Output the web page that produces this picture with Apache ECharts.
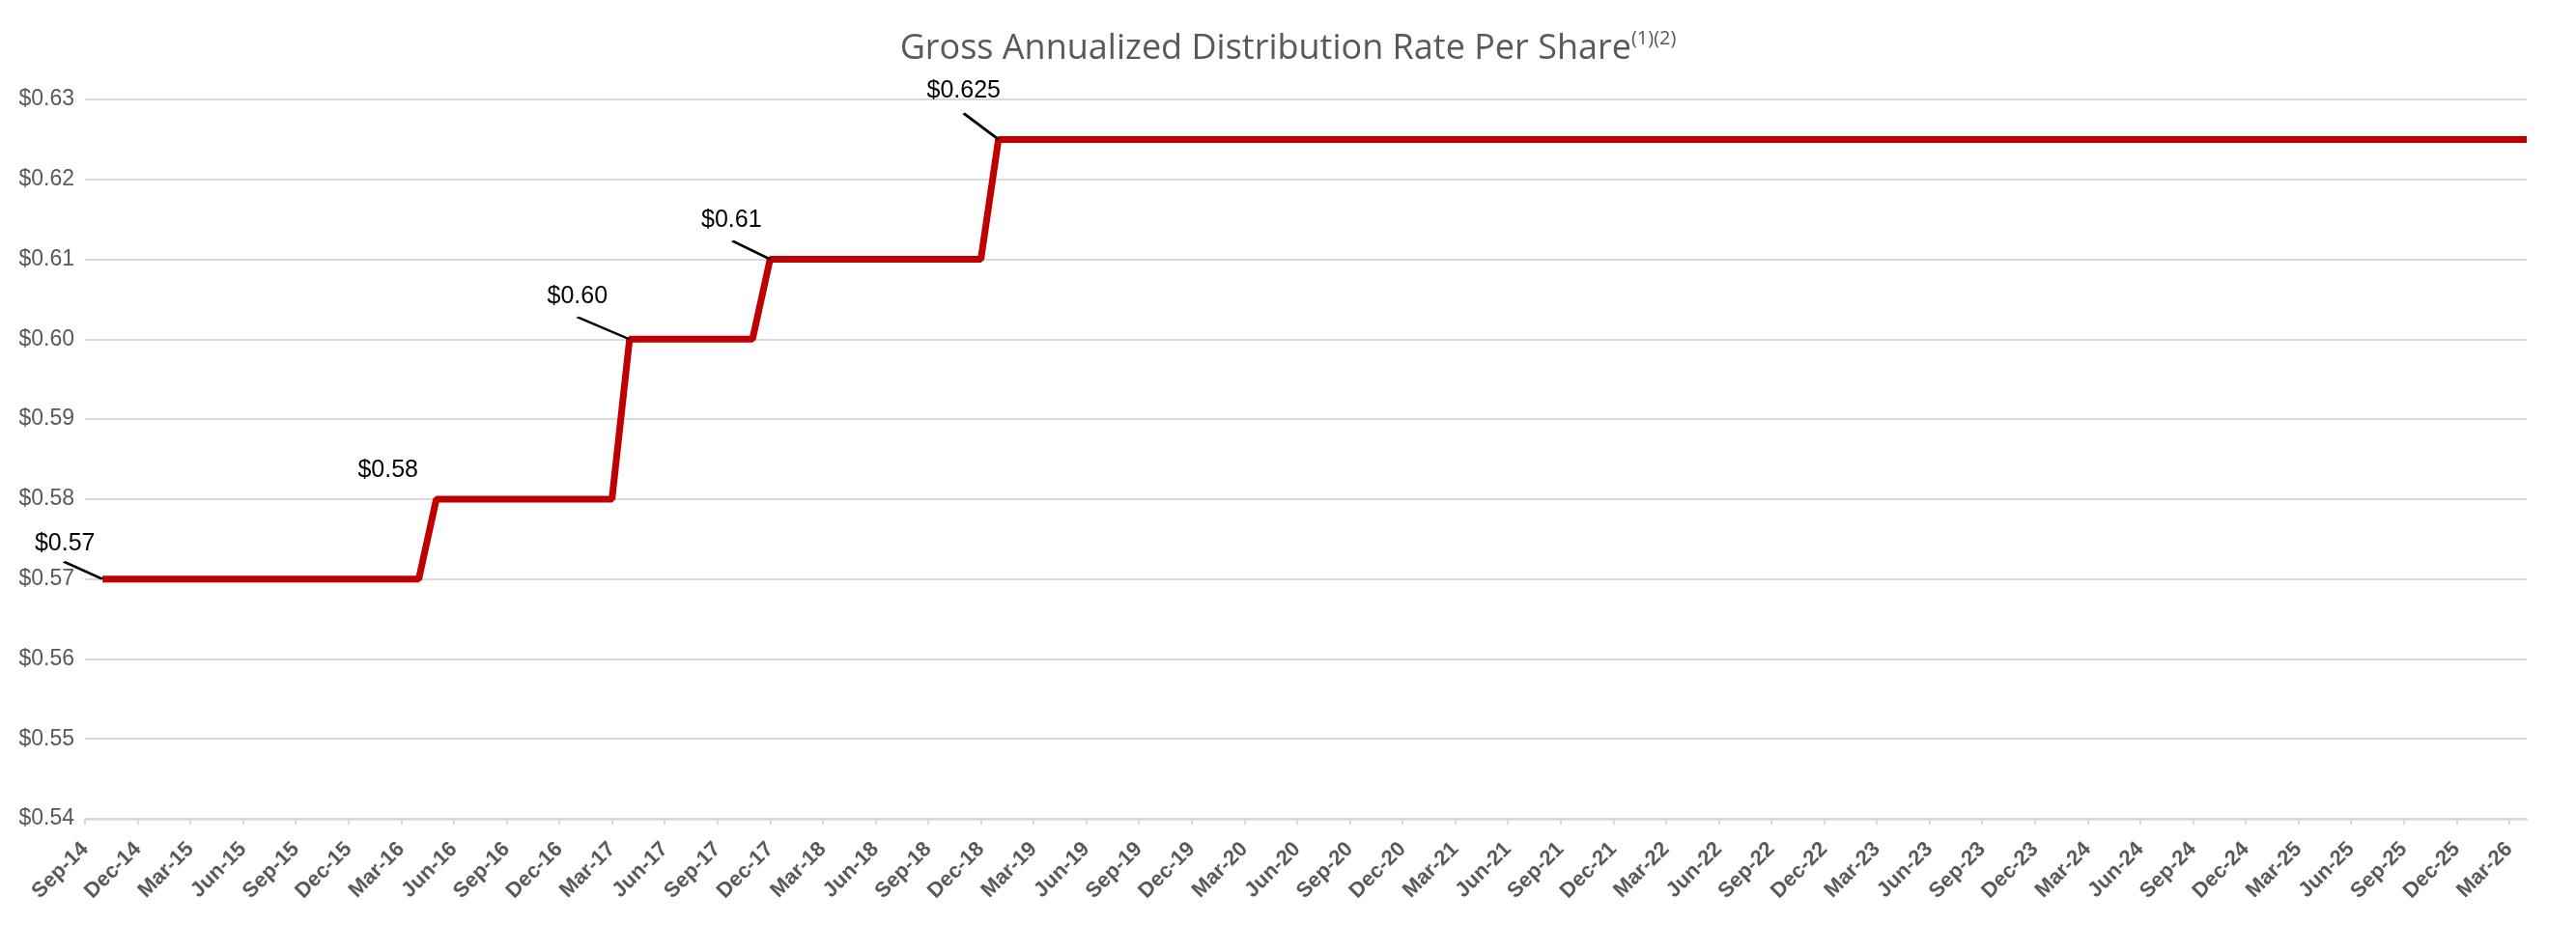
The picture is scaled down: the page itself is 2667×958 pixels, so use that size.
<!DOCTYPE html>
<html>
<head>
<meta charset="utf-8">
<script src="https://cdn.jsdelivr.net/npm/echarts@6/dist/echarts.min.js"></script>
<style>
  html, body { margin: 0; padding: 0; background: #fff; }
  #chart { width: 2667px; height: 958px; }
</style>
</head>
<body>
<div id="chart"></div>
<script>
// monthly categories, Sep-14 .. Apr-26
var monthNames = ['Jan','Feb','Mar','Apr','May','Jun','Jul','Aug','Sep','Oct','Nov','Dec'];
var months = [];
for (var y = 2014, m = 8; y < 2026 || m <= 3; m++) {
  if (m > 11) { m = 0; y++; }
  months.push(monthNames[m] + '-' + String(y).slice(2));
}

// rate per share, one value per month (Sep-14 has no value)
var rate = [
  null, 0.57, 0.57, 0.57,                                                         // 2014 Sep-Dec
  0.57, 0.57, 0.57, 0.57, 0.57, 0.57, 0.57, 0.57, 0.57, 0.57, 0.57, 0.57,         // 2015
  0.57, 0.57, 0.57, 0.57, 0.58, 0.58, 0.58, 0.58, 0.58, 0.58, 0.58, 0.58,         // 2016
  0.58, 0.58, 0.58, 0.60, 0.60, 0.60, 0.60, 0.60, 0.60, 0.60, 0.60, 0.61,         // 2017
  0.61, 0.61, 0.61, 0.61, 0.61, 0.61, 0.61, 0.61, 0.61, 0.61, 0.61, 0.61,         // 2018
  0.625, 0.625, 0.625, 0.625, 0.625, 0.625, 0.625, 0.625, 0.625, 0.625, 0.625, 0.625, // 2019
  0.625, 0.625, 0.625, 0.625, 0.625, 0.625, 0.625, 0.625, 0.625, 0.625, 0.625, 0.625, // 2020
  0.625, 0.625, 0.625, 0.625, 0.625, 0.625, 0.625, 0.625, 0.625, 0.625, 0.625, 0.625, // 2021
  0.625, 0.625, 0.625, 0.625, 0.625, 0.625, 0.625, 0.625, 0.625, 0.625, 0.625, 0.625, // 2022
  0.625, 0.625, 0.625, 0.625, 0.625, 0.625, 0.625, 0.625, 0.625, 0.625, 0.625, 0.625, // 2023
  0.625, 0.625, 0.625, 0.625, 0.625, 0.625, 0.625, 0.625, 0.625, 0.625, 0.625, 0.625, // 2024
  0.625, 0.625, 0.625, 0.625, 0.625, 0.625, 0.625, 0.625, 0.625, 0.625, 0.625, 0.625, // 2025
  0.625, 0.625, 0.625, 0.625                                                      // 2026 Jan-Apr
];

// months where a new rate starts and gets a data label
var labelMonths = ['Oct-14', 'May-16', 'Apr-17', 'Dec-17', 'Jan-19'];

var yTicks = { min: 0.54, max: 0.63, step: 0.01 };

// label offsets and leader line sizes (style only)
var labelStyle = {
  'Oct-14': { offset: [-39, -23], line: [40, 18] },
  'May-16': { offset: [-50, -16], line: null },
  'Apr-17': { offset: [-54, -30], line: [54, 23] },
  'Dec-17': { offset: [-40, -26], line: [39, 19] },
  'Jan-19': { offset: [-36, -36], line: [36, 27] }
};

function money(v) {
  var s = v.toFixed(3);
  if (s.charAt(s.length - 1) === '0') s = v.toFixed(2);
  return '$' + s;
}

var seriesData = rate.map(function (v, i) {
  var st = labelStyle[months[i]];
  if (labelMonths.indexOf(months[i]) < 0 || !st) return v;
  return {
    value: v,
    label: { show: true, offset: st.offset }
  };
});

var leaderLines = [];
labelMonths.forEach(function (mo) {
  var st = labelStyle[mo];
  if (!st.line) return;
  leaderLines.push({
    coord: [mo, rate[months.indexOf(mo)]],
    symbolSize: st.line,
    symbolOffset: [-st.line[0] / 2, -st.line[1] / 2]
  });
});

var chart = echarts.init(document.getElementById('chart'));
chart.setOption({
  animation: false,
  backgroundColor: '#fff',
  title: {
    text: 'Gross Annualized Distribution Rate Per Share{s|(1)(2)}',
    left: 'center',
    top: 25,
    textStyle: {
      fontFamily: 'Open Sans',
      fontWeight: 'normal',
      fontSize: 36,
      color: '#595959',
      lineHeight: 42,
      rich: {
        s: { fontFamily: 'Open Sans', fontSize: 20, color: '#595959', verticalAlign: 'top', lineHeight: 42, padding: [0, 0, 17, 0] }
      }
    }
  },
  grid: { left: 88, right: 51, top: 103, bottom: 110, containLabel: false },
  xAxis: {
    type: 'category',
    data: months,
    boundaryGap: false,
    axisLine: { lineStyle: { color: '#d9d9d9', width: 2.5 } },
    axisTick: { show: true, interval: 2, length: 6, lineStyle: { color: '#d9d9d9', width: 2 } },
    axisLabel: {
      interval: 2,
      rotate: 45,
      margin: 28,
      fontFamily: 'Liberation Sans',
      fontWeight: 'bold',
      fontSize: 22,
      color: '#595959'
    },
    splitLine: { show: false }
  },
  yAxis: {
    type: 'value',
    min: yTicks.min,
    max: yTicks.max,
    interval: yTicks.step,
    axisLine: { show: false },
    axisTick: { show: false },
    axisLabel: {
      margin: 11,
      fontFamily: 'Liberation Sans',
      fontSize: 23,
      color: '#595959',
      formatter: function (v) { return '$' + v.toFixed(2); }
    },
    splitLine: { lineStyle: { color: '#d9d9d9', width: 2 } }
  },
  series: [{
    type: 'line',
    data: seriesData,
    showSymbol: true,
    showAllSymbol: true,
    symbol: 'circle',
    symbolSize: 0,
    connectNulls: false,
    lineStyle: { color: '#c00000', width: 7 },
    itemStyle: { color: '#c00000' },
    label: {
      show: false,
      position: 'top',
      distance: 0,
      fontFamily: 'Liberation Sans',
      fontSize: 25,
      lineHeight: 28,
      color: '#000',
      formatter: function (p) { return money(p.value); }
    },
    emphasis: { disabled: true },
    markPoint: {
      symbol: 'path://M0,0L10,10',
      silent: true,
      label: { show: false },
      itemStyle: { color: 'transparent', borderColor: '#000', borderWidth: 3 },
      data: leaderLines
    }
  }]
});
</script>
</body>
</html>
